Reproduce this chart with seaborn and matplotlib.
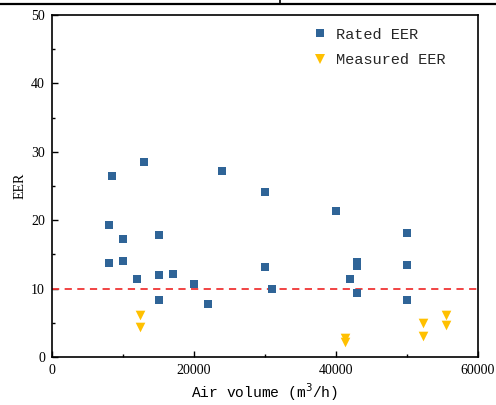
import matplotlib
matplotlib.use("Agg")
import matplotlib.pyplot as plt
from matplotlib.lines import Line2D
from matplotlib.ticker import MultipleLocator
import seaborn as sns
import pandas as pd

rated_x = [8000, 8000, 8500, 10000, 10000, 12000, 13000, 15000, 15000, 15000,
           17000, 20000, 22000, 24000, 30000, 30000, 31000, 40000, 42000, 43000,
           43000, 43000, 50000, 50000, 50000]
rated_y = [19.3, 13.8, 26.4, 17.3, 14.1, 11.4, 28.5, 17.9, 12.0, 8.3,
           12.2, 10.6, 7.8, 27.2, 24.1, 13.1, 9.9, 21.3, 11.4, 13.9,
           13.3, 9.3, 18.1, 13.4, 8.4]
meas_x = [12400, 12400, 41300, 41300, 52300, 52300, 55500, 55500]
meas_y = [6.1, 4.4, 2.8, 2.2, 4.9, 3.1, 6.2, 4.7]
threshold = 10

df = pd.DataFrame({
    "air": rated_x + meas_x,
    "eer": rated_y + meas_y,
    "series": ["Rated EER"] * len(rated_x) + ["Measured EER"] * len(meas_x),
})

sns.set_theme(style="white")
plt.rcParams["font.family"] = ["Liberation Serif", "DejaVu Serif"]

fig = plt.figure(figsize=(4.96, 4.05), dpi=100)
ax = fig.add_axes([52 / 496, 1 - 357 / 405, 426 / 496, 342 / 405])

blue = "#2F6497"
yellow = "#FFC000"
red = "#F03535"

sns.scatterplot(data=df[df.series == "Rated EER"], x="air", y="eer", marker="s",
                color=blue, s=28, linewidth=0, ax=ax, legend=False, zorder=3)
sns.scatterplot(data=df[df.series == "Measured EER"], x="air", y="eer", marker="v",
                color=yellow, s=48, linewidth=0, ax=ax, legend=False, zorder=3)
ax.axhline(threshold, color=red, lw=1.3, dashes=(4, 3), zorder=2)

ax.set_xlim(0, 60000)
ax.set_ylim(0, 50)
ax.xaxis.set_major_locator(MultipleLocator(20000))
ax.xaxis.set_minor_locator(MultipleLocator(10000))
ax.yaxis.set_major_locator(MultipleLocator(10))
ax.yaxis.set_minor_locator(MultipleLocator(5))
ax.tick_params(which="both", direction="in", top=False, right=False,
               bottom=True, left=True, labelsize=10, colors="black", pad=5)
ax.tick_params(which="major", length=4, width=1)
ax.tick_params(which="minor", length=2.5, width=1)
for sp in ax.spines.values():
    sp.set_color("black")
    sp.set_linewidth(1.2)

ax.set_xlabel("Air volume (m$^3$/h)", family=["Liberation Mono", "DejaVu Sans Mono"],
              fontsize=10.5, color="black", labelpad=3)
ax.set_ylabel("EER", fontsize=10, color="black", labelpad=3)

handles = [
    Line2D([], [], marker="s", color=blue, ls="none", markersize=5.5, markeredgewidth=0),
    Line2D([], [], marker="v", color=yellow, ls="none", markersize=7.5, markeredgewidth=0),
]
ax.legend(handles, ["Rated EER", "Measured EER"], loc="upper left",
          bbox_to_anchor=(0.578, 1.003), frameon=False, handlelength=1.0,
          handletextpad=0.6, labelspacing=0.75,
          prop={"family": ["Liberation Mono", "DejaVu Sans Mono"], "size": 11})

fig.add_artist(Line2D([0, 1], [1 - 4 / 405, 1 - 4 / 405], transform=fig.transFigure,
                      color="black", lw=1.6))
fig.add_artist(Line2D([280 / 496, 280 / 496], [1 - 4 / 405, 1], transform=fig.transFigure,
                      color="black", lw=1.2))

fig.savefig("out.png", dpi=100)
